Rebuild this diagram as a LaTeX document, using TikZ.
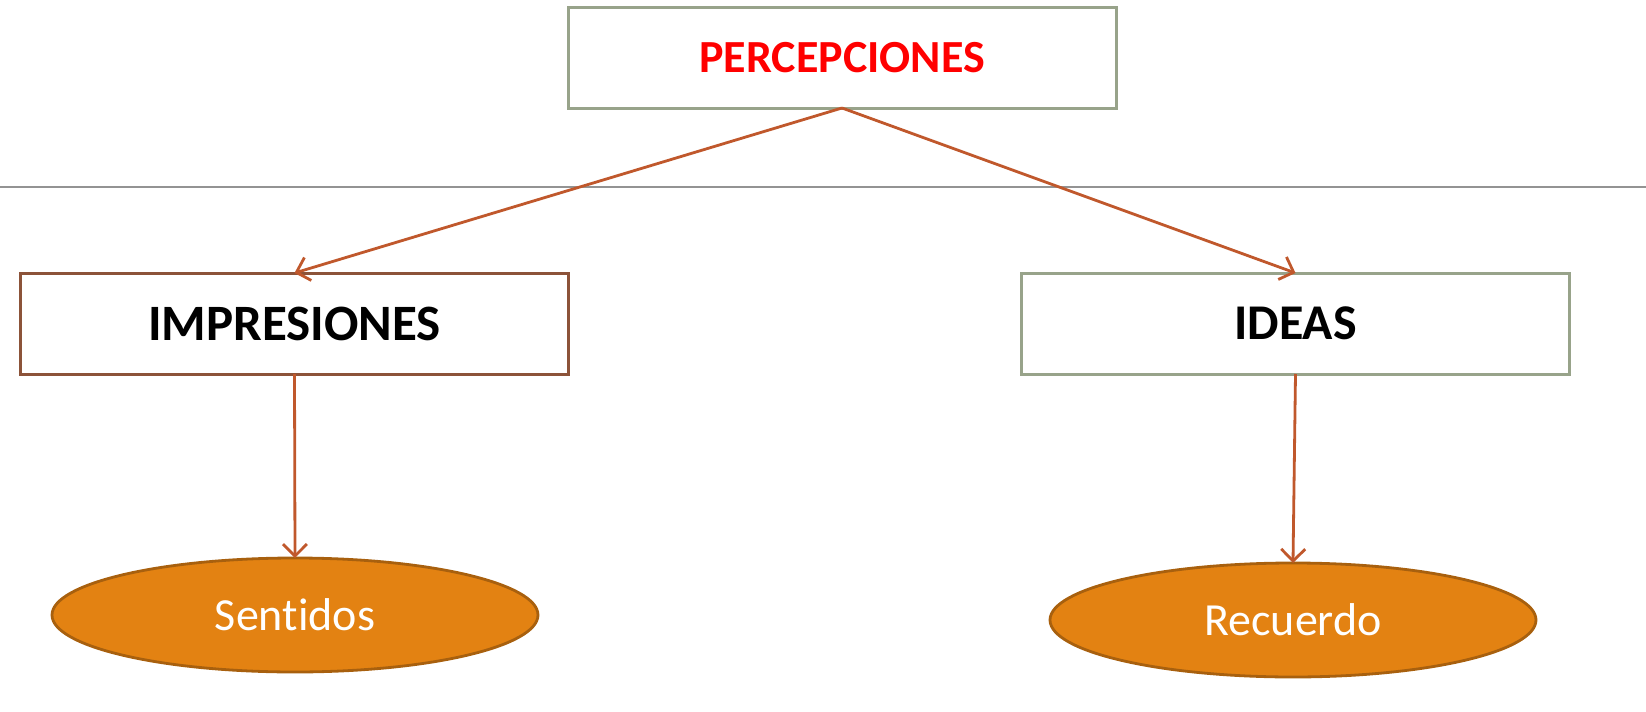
\documentclass[tikz,border=0pt]{standalone}
\usepackage{fontspec}
\setmainfont{Carlito}[Ligatures=NoCommon]
\usetikzlibrary{shapes.geometric,arrows.meta}

\definecolor{boxGreen}{HTML}{98A38A}
\definecolor{boxBrown}{HTML}{8C5339}
\definecolor{arrowOrange}{HTML}{C0582C}
\definecolor{ovalFill}{HTML}{E38212}
\definecolor{ovalLine}{HTML}{A8600E}

\begin{document}
\begin{tikzpicture}
[x=0.5pt,y=-0.5pt,
  boxDecorate/.style={shape=rectangle,draw=boxGreen,line width=1.5pt,fill=white,
    minimum width=274pt,minimum height=50.5pt,inner sep=0pt,outer sep=0pt},
  ovalDecorate/.style={shape=ellipse,draw=ovalLine,line width=1.4pt,fill=ovalFill,
    minimum width=243pt,minimum height=57pt,inner sep=0pt,outer sep=0pt,
    text=white,font=\fontsize{23}{28}\selectfont},
  lineDecorate/.style={draw=arrowOrange,line width=1.4pt,-{Straight Barb[length=6pt,width=12pt]}}]
\useasboundingbox (0,0) rectangle (1646,712);
%% separator
\draw[gray!85,line width=1pt] (0,187) -- (1646,187);
%% nodes or vertices
\node (perc) at (842,57.5) [boxDecorate,text=red,font=\fontsize{23}{28}\selectfont\bfseries] {PERCEPCIONES};
\node (imp) at (294.5,323.5) [boxDecorate,draw=boxBrown,font=\fontsize{25.5}{30}\selectfont\bfseries] {IMPRESIONES};
\node (ideas) at (1295.5,323.5) [boxDecorate,font=\fontsize{25}{30}\selectfont\bfseries] {IDEAS};
\node (sent) at (295,615) [ovalDecorate] {Sentidos};
\node (rec) at (1293,620) [ovalDecorate] {Recuerdo};
%% edges or lines
\path
(perc.south) edge[lineDecorate] (imp.north)
(perc.south) edge[lineDecorate] (ideas.north)
(imp.south) edge[lineDecorate] (sent.north)
(ideas.south) edge[lineDecorate] (rec.north);
\end{tikzpicture}
\end{document}
